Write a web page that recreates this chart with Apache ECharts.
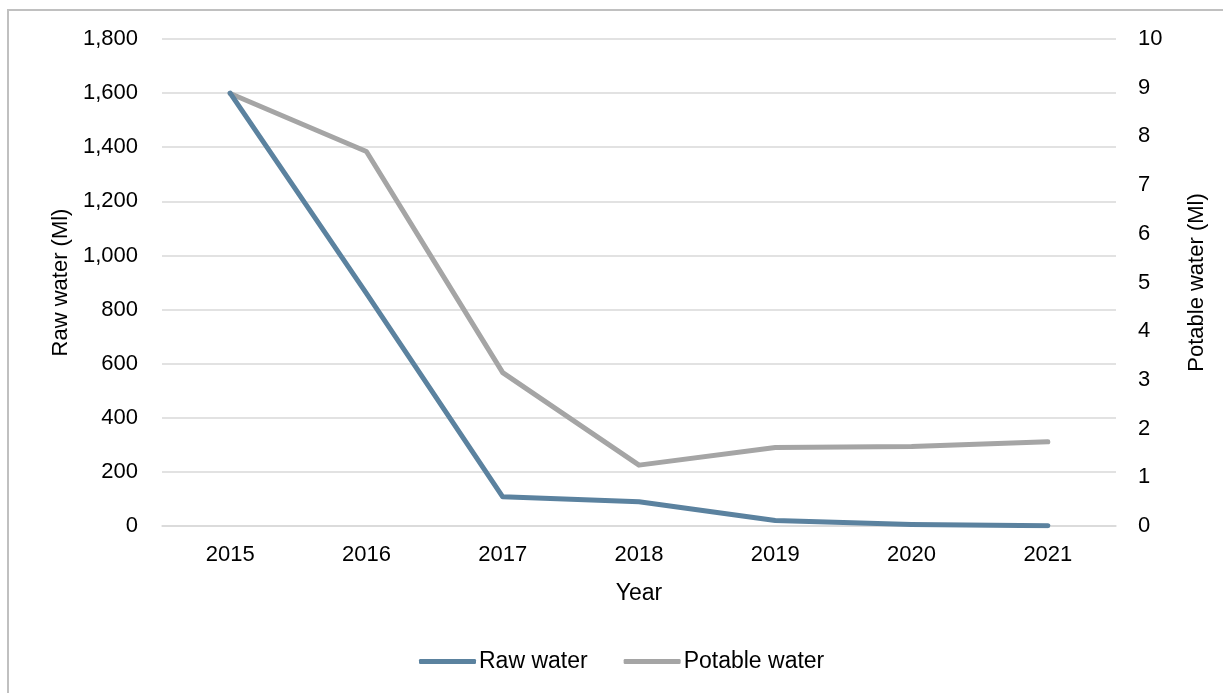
<!DOCTYPE html>
<html>
<head>
<meta charset="utf-8">
<script src="https://cdn.jsdelivr.net/npm/echarts@6/dist/echarts.min.js"></script>
<style>
  html, body { margin: 0; padding: 0; background: #fff; }
  #chart { width: 1223px; height: 693px; }
</style>
</head>
<body>
<div id="chart"></div>
<script>
// Annual water use, 2015–2021
const years = ['2015', '2016', '2017', '2018', '2019', '2020', '2021'];
const rawWater = [1600, 860, 108, 90, 20, 6, 1];               // Ml, left axis
const potableWater = [8.88, 7.69, 3.15, 1.25, 1.61, 1.63, 1.73]; // Ml, right axis

const FONT = '"Liberation Sans", Arial, sans-serif';
const TXT = '#000000';
const fmt = v => v.toLocaleString('en-US');

const chart = echarts.init(document.getElementById('chart'), null, { renderer: 'canvas' });

chart.setOption({
  backgroundColor: '#ffffff',
  animation: false,
  textStyle: { fontFamily: FONT },
  graphic: [
    { type: 'line', shape: { x1: 8, y1: 10, x2: 8, y2: 700 }, style: { stroke: '#c0c0c0', lineWidth: 2 } },
    { type: 'line', shape: { x1: 7, y1: 10, x2: 1230, y2: 10 }, style: { stroke: '#c0c0c0', lineWidth: 2 } }
  ],
  grid: { left: 162, right: 107, top: 39, bottom: 167, containLabel: false },
  legend: {
    left: 414,
    top: 645,
    itemWidth: 57,
    itemHeight: 5,
    itemGap: 36,
    icon: 'roundRect',
    textStyle: { fontFamily: FONT, fontSize: 23, color: TXT, padding: [0, 0, 0, -2] },
    data: ['Raw water', 'Potable water']
  },
  xAxis: {
    type: 'category',
    data: years,
    boundaryGap: true,
    name: 'Year',
    nameLocation: 'middle',
    nameGap: 56,
    nameTextStyle: { fontFamily: FONT, fontSize: 23, color: TXT },
    axisLine: { show: true, lineStyle: { color: '#d9d9d9', width: 1.5 } },
    axisTick: { show: false },
    axisLabel: { fontFamily: FONT, fontSize: 22, color: TXT, margin: 18 }
  },
  yAxis: [
    {
      type: 'value',
      min: 0, max: 1800, interval: 200,
      name: 'Raw water (Ml)',
      nameLocation: 'middle',
      nameGap: 88,
      nameRotate: 90,
      nameTextStyle: { fontFamily: FONT, fontSize: 22, color: TXT },
      axisLine: { show: false },
      axisTick: { show: false },
      splitLine: { show: true, lineStyle: { color: '#d9d9d9', width: 1.5 } },
      axisLabel: { fontFamily: FONT, fontSize: 22, color: TXT, margin: 24, formatter: fmt }
    },
    {
      type: 'value',
      min: 0, max: 10, interval: 1,
      name: 'Potable water (Ml)',
      nameLocation: 'middle',
      nameGap: 70,
      nameRotate: 90,
      nameTextStyle: { fontFamily: FONT, fontSize: 22, color: TXT },
      axisLine: { show: false },
      axisTick: { show: false },
      splitLine: { show: false },
      axisLabel: { fontFamily: FONT, fontSize: 22, color: TXT, margin: 22 }
    }
  ],
  series: [
    {
      name: 'Raw water',
      type: 'line',
      yAxisIndex: 0,
      data: rawWater,
      showSymbol: false,
      symbol: 'none',
      lineStyle: { color: '#5b829f', width: 5, cap: 'round', join: 'round' },
      itemStyle: { color: '#5b829f' },
      z: 3
    },
    {
      name: 'Potable water',
      type: 'line',
      yAxisIndex: 1,
      data: potableWater,
      showSymbol: false,
      symbol: 'none',
      lineStyle: { color: '#a5a5a5', width: 5, cap: 'round', join: 'round' },
      itemStyle: { color: '#a5a5a5' },
      z: 2
    }
  ]
});
</script>
</body>
</html>
